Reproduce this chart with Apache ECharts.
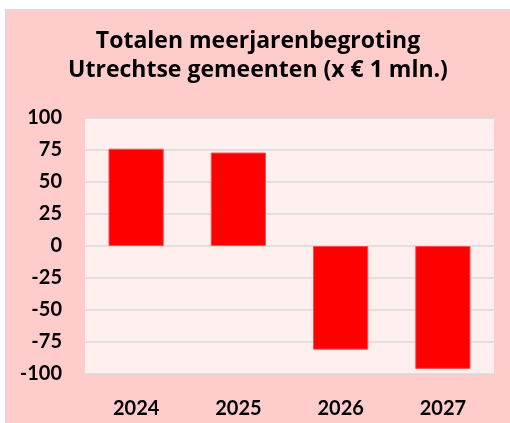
<!DOCTYPE html>
<html>
<head>
<meta charset="utf-8">
<script src="https://cdn.jsdelivr.net/npm/echarts@6/dist/echarts.min.js"></script>
<style>
  html, body { margin: 0; padding: 0; background: #fff; }
  #chart {
    position: absolute; left: 5px; top: 9px;
    width: 504px; height: 413px;
    border-top: 1px solid #d9d9d9; border-left: 1px solid #d9d9d9;
    background: #ffcccc;
  }
</style>
</head>
<body>
<div id="chart"></div>
<script>
  const years = ['2024', '2025', '2026', '2027'];
  const totals = [76, 73, -81, -96];
  const titleLines = ['Totalen meerjarenbegroting', 'Utrechtse gemeenten (x € 1 mln.)'];

  const chart = echarts.init(document.getElementById('chart'));

  const option = {
    backgroundColor: '#ffcccc',
    title: {
      text: titleLines.join('\n'),
      left: 'center',
      top: 12,
      textStyle: {
        fontFamily: 'Open Sans',
        fontWeight: 'bold',
        fontSize: 23,
        lineHeight: 29,
        color: '#000'
      }
    },
    grid: {
      left: 79, top: 108, right: 16, bottom: 49,
      show: true,
      backgroundColor: '#ffefef',
      borderWidth: 0
    },
    xAxis: {
      type: 'category',
      data: years,
      axisLine: { show: false },
      axisTick: { show: false },
      axisLabel: {
        margin: 25,
        fontFamily: 'Lato',
        fontWeight: 'bold',
        fontSize: 20,
        color: '#000'
      }
    },
    yAxis: {
      type: 'value',
      min: -100,
      max: 100,
      interval: 25,
      axisLine: { show: false },
      axisTick: { show: false },
      splitLine: { lineStyle: { color: '#d9d9d9', width: 1.5 } },
      axisLabel: {
        margin: 23,
        fontFamily: 'Lato',
        fontWeight: 'bold',
        fontSize: 20,
        color: '#000'
      }
    },
    series: [
      {
        type: 'bar',
        data: totals,
        barCategoryGap: '46%',
        itemStyle: { color: '#ff0000', borderColor: '#ff4d4d', borderWidth: 1 }
      }
    ]
  };

  chart.setOption(option);
</script>
</body>
</html>
